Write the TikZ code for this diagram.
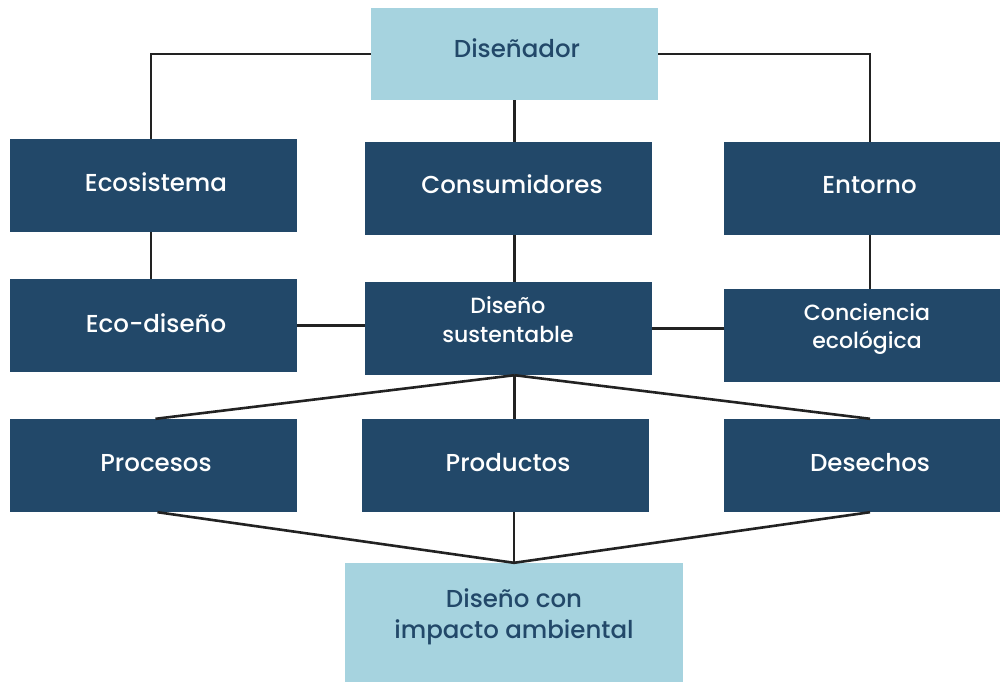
\documentclass[tikz,border=0pt]{standalone}
\usepackage{fontspec}
\setmainfont{Poppins Medium}
\definecolor{darkbox}{HTML}{224869}
\definecolor{lightbox}{HTML}{A6D3DF}
\definecolor{linec}{HTML}{222222}
\begin{document}
\begin{tikzpicture}[x=1pt,y=-1pt,
  dbox/.style={fill=darkbox,minimum width=287pt,minimum height=93pt,inner sep=0pt},
  lbox/.style={fill=lightbox,inner sep=0pt},
  wt/.style={text=white,inner sep=0pt,anchor=base,font=\fontsize{24.5}{29}\selectfont},
  wts/.style={wt,font=\fontsize{22}{27}\selectfont},
  bt/.style={wt,text=darkbox},
  conn/.style={draw=linec,line width=2.6pt}]
\useasboundingbox (0,0) rectangle (1000,682);
% boxes
\node[lbox,minimum width=287pt,minimum height=92pt] (dis) at (514.5,54) {};
\node[dbox] (eco) at (153.5,185.5) {};
\node[dbox] (con) at (508.5,188.5) {};
\node[dbox] (ent) at (867.5,188.5) {};
\node[dbox] (ecod) at (153.5,325.5) {};
\node[dbox] (sus) at (508.5,328.5) {};
\node[dbox] (conc) at (867.5,335.5) {};
\node[dbox] (pro) at (153.5,465.5) {};
\node[dbox] (prod) at (505.5,465.5) {};
\node[dbox] (des) at (867.5,465.5) {};
\node[lbox,minimum width=338pt,minimum height=119pt] (imp) at (514,622.5) {};
% texts
\node[bt] (tdis) at (517,58) {Diseñador};
\node[wt] (teco) at (156,191) {Ecosistema};
\node[wt] (tcon) at (512,193) {Consumidores};
\node[wt] (tent) at (869.5,193) {Entorno};
\node[wt] (tecod) at (156,332) {Eco-diseño};
\node[wts] (tsus1) at (508,313) {Diseño};
\node[wts] (tsus2) at (508,342) {sustentable};
\node[wts] (tconc1) at (867,320) {Conciencia};
\node[wts] (tconc2) at (867,348) {ecológica};
\node[wt] (tpro) at (156,471) {Procesos};
\node[wt] (tprod) at (508,471) {Productos};
\node[wt] (tdes) at (870,471) {Desechos};
\node[bt] (timp1) at (514,607) {Diseño con};
\node[bt] (timp2) at (514,638.5) {impacto ambiental};
% connectors
\draw[conn] (dis.west) -| ([xshift=-2.5pt]eco.north);
\draw[conn] (dis.east) -| ([xshift=2.5pt]ent.north);
\draw[conn] (dis.south) -- (dis.south |- con.north);
\draw[conn] ([xshift=-2.5pt]eco.south) -- ([xshift=-2.5pt]ecod.north);
\draw[conn] ([xshift=6pt]con.south) -- ([xshift=6pt]sus.north);
\draw[conn] ([xshift=2.5pt]ent.south) -- ([xshift=2.5pt]conc.north);
\draw[conn] (ecod.east) -- (ecod.east -| sus.west);
\draw[conn] (sus.east) -- (sus.east -| conc.west);
\coordinate (st) at ([xshift=6pt]sus.south);
\draw[conn] (st) -- ([xshift=2pt]pro.north);
\draw[conn] (st) -- (st |- prod.north);
\draw[conn] (st) -- ([xshift=2.5pt]des.north);
\draw[conn] ([xshift=4pt]pro.south) -- (imp.north);
\draw[conn] (imp.north) -- (imp.north |- prod.south);
\draw[conn] ([xshift=2.5pt]des.south) -- (imp.north);
\end{tikzpicture}
\end{document}
